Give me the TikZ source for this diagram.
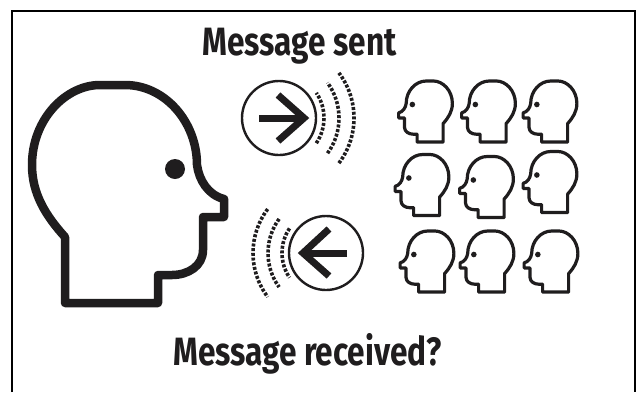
\documentclass[tikz,border=0pt]{standalone}
\usepackage{fontspec}
\newfontfamily\titlefont[FakeStretch=0.8]{Fira Sans}
\usetikzlibrary{positioning}
\definecolor{cink}{HTML}{1F1D1E}
\tikzset{
  every picture/.style={x=1pt, y=-1pt},
  frame/.style={draw=black, line width=2.2pt},
  title/.style={font=\titlefont\bfseries\fontsize{39.5}{40}\selectfont, text=cink, anchor=base, inner sep=0pt},
  bubble/.style={circle, draw=cink, line width=2.4pt, minimum size=74pt, inner sep=0pt},
  pointer/.style={draw=cink, line width=7pt, miter limit=10},
  wave/.style={draw=cink, line width=3.6pt, dash pattern=on 3pt off 1.7pt},
  head/.pic={
    \draw[line join=round, draw=cink] (-63,109) -- (-63,43) .. controls (-82,22) and (-96,0) .. (-96,-29)
      .. controls (-96,-75) and (-62,-109) .. (-28,-109) -- (-3,-109)
      .. controls (37,-109) and (69,-72) .. (69,-29)
      .. controls (71,-14) and (80,1) .. (96,5) -- (96,23) -- (75,23) -- (75,56)
      .. controls (75,72) and (60,81) .. (44,81) -- (30,81) -- (30,109) -- cycle;
    \fill[cink] (47,-25) circle (10);
  },
}
\begin{document}
\begin{tikzpicture}
  \useasboundingbox (0,0) rectangle (640,392);
  \draw[frame] (12,392) -- (12,11) -- (635,11) -- (635,392);
  \node[title] (sent) at (299.5,55) {Message sent};
  \node[title] (received) at (307.5,365) {Message received?};
  % big head
  \pic[line width=8.5pt] at (128,194) {head};
  % small heads
  \foreach \hx/\hy in {425.5/111.5, 488.5/111.5, 550/111.5, 422/185, 486.5/187, 550/182, 427/261.5, 487/261.5, 551/261.5}
    \pic[xscale=-0.28, yscale=0.28, line width=3.2pt] at (\hx,\hy) {head};
  % sent
  \node[bubble] (out) at (279,118) {};
  \coordinate (outa) at (259,118);
  \coordinate (outb) at (305,118);
  \draw[pointer] (outa) -- (outb);
  \draw[pointer] (278,95) -- (304,118) -- (278,141);
  \foreach \r/\a in {45/34, 60/36, 75/37}
    \draw[wave] ([shift={(-\a:\r pt)}]out.center) arc[start angle=-\a, end angle=\a, radius=\r pt];
  % received
  \node[bubble] (in) at (326,253) {};
  \coordinate (ina) at (347,253);
  \coordinate (inb) at (303,253);
  \draw[pointer] (ina) -- (inb);
  \draw[pointer] (329,229) -- (303,253) -- (329,276);
  \foreach \r/\a in {44/34, 58/36, 73/37}
    \draw[wave] ([shift={(180-\a:\r pt)}]in.center) arc[start angle=180-\a, end angle=180+\a, radius=\r pt];
\end{tikzpicture}
\end{document}
